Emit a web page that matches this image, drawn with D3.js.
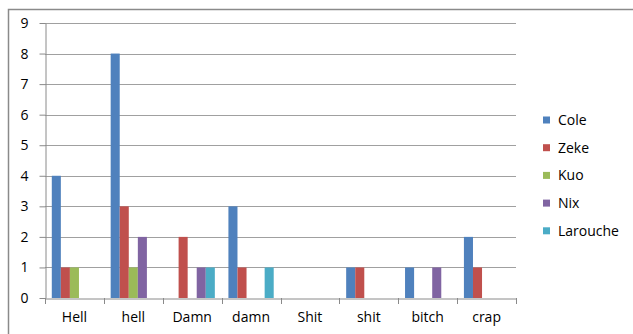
<!DOCTYPE html>
<html>
<head>
<meta charset="utf-8">
<script src="https://cdn.jsdelivr.net/npm/d3@7"></script>
<style>
  html, body { margin: 0; padding: 0; background: #fff; }
  svg text { font-family: "Open Sans", "Liberation Sans", sans-serif; fill: #000; }
</style>
</head>
<body>
<svg id="chart" width="633" height="334"></svg>
<script>
// Word counts per speaker
const categories = ["Hell", "hell", "Damn", "damn", "Shit", "shit", "bitch", "crap"];
const seriesNames = ["Cole", "Zeke", "Kuo", "Nix", "Larouche"];
const cole     = [4, 8, 0, 3, 0, 1, 1, 2];
const zeke     = [1, 3, 2, 1, 0, 1, 0, 1];
const kuo      = [1, 1, 0, 0, 0, 0, 0, 0];
const nix      = [0, 2, 1, 0, 0, 0, 1, 0];
const larouche = [0, 0, 1, 1, 0, 0, 0, 0];
const yTicks = [0, 1, 2, 3, 4, 5, 6, 7, 8, 9];
const colors = ["#4F81BD", "#C0504D", "#9BBB59", "#8064A2", "#4BACC6"];

const seriesValues = [cole, zeke, kuo, nix, larouche];
const FONT = "'Open Sans', 'Liberation Sans', sans-serif";
const FONT_SIZE = 14;

const svg = d3.select("#chart");

// chart frame
svg.append("rect")
  .attr("x", 8.5).attr("y", 9.5)
  .attr("width", 640).attr("height", 340)
  .attr("fill", "#fff")
  .attr("stroke", "#8a8a8a")
  .attr("stroke-width", 1.5);

const plot = { left: 45, right: 516, top: 23, bottom: 298 };

const x0 = d3.scaleBand().domain(categories).range([plot.left, plot.right]).padding(0);
const groupPad = x0.bandwidth() * 1.5 / 6.5 / 2;
const x1 = d3.scaleBand().domain(seriesNames)
  .range([groupPad, x0.bandwidth() - groupPad]).padding(0);
const y = d3.scaleLinear().domain([0, 9]).range([plot.bottom, plot.top]);

// horizontal gridlines
svg.append("g").selectAll("line").data(yTicks.filter(t => t > 0)).join("line")
  .attr("x1", plot.left).attr("x2", plot.right)
  .attr("y1", d => Math.round(y(d)) + 0.5).attr("y2", d => Math.round(y(d)) + 0.5)
  .attr("stroke", "#a0a0a0").attr("stroke-width", 1);

// bars
const groups = svg.append("g").selectAll("g").data(categories).join("g")
  .attr("transform", c => `translate(${x0(c)},0)`);
groups.selectAll("rect")
  .data((c, i) => seriesNames.map((s, j) => ({ s, v: seriesValues[j][i], j })))
  .join("rect")
  .attr("x", d => x1(d.s))
  .attr("width", x1.bandwidth())
  .attr("y", d => y(d.v))
  .attr("height", d => y(0) - y(d.v))
  .attr("fill", d => colors[d.j]);

// y axis
const yAxis = svg.append("g")
  .attr("transform", `translate(${plot.left + 0.5},0)`)
  .call(d3.axisLeft(y).tickValues(yTicks).tickSize(6).tickSizeOuter(0).tickPadding(11));
yAxis.select(".domain").attr("stroke", "#8a8a8a");
yAxis.selectAll(".tick line").attr("stroke", "#8a8a8a");
yAxis.selectAll("text").attr("font-size", FONT_SIZE).style("font-family", FONT).attr("fill", "#000");

// x axis
const xAxis = svg.append("g")
  .attr("transform", `translate(0,${plot.bottom + 0.5})`)
  .call(d3.axisBottom(x0).tickSize(0).tickSizeOuter(0).tickPadding(14));
xAxis.select(".domain").attr("stroke", "#8a8a8a");
xAxis.selectAll("text").attr("font-size", FONT_SIZE).style("font-family", FONT).attr("fill", "#000");
// category separators
svg.append("g").selectAll("line")
  .data(categories.map(c => x0(c)).concat([plot.right]))
  .join("line")
  .attr("x1", d => Math.round(d) + 0.5).attr("x2", d => Math.round(d) + 0.5)
  .attr("y1", plot.bottom).attr("y2", plot.bottom + 6)
  .attr("stroke", "#8a8a8a");

// legend
const legend = svg.append("g").attr("transform", "translate(543,120)");
const items = legend.selectAll("g").data(seriesNames).join("g")
  .attr("transform", (d, i) => `translate(0,${i * 27.7})`);
items.append("rect")
  .attr("x", 0).attr("y", -3.5).attr("width", 7).attr("height", 7)
  .attr("fill", (d, i) => colors[i]);
items.append("text")
  .attr("x", 15).attr("y", 0).attr("dy", "0.35em")
  .attr("font-size", FONT_SIZE)
  .text(d => d);
</script>
</body>
</html>
